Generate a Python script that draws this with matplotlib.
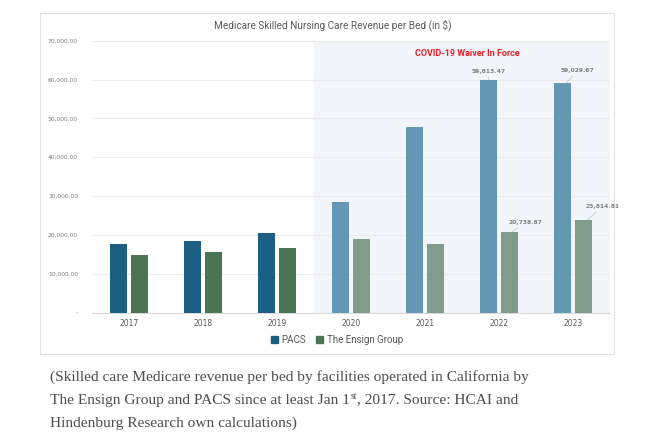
import numpy as np
import matplotlib.pyplot as plt
from matplotlib.patches import Rectangle
from matplotlib.ticker import FuncFormatter

years = ['2017', '2018', '2019', '2020', '2021', '2022', '2023']
pacs = [17590, 18450, 20600, 28550, 47900, 59813.47, 59029.67]
ensign = [14830, 15680, 16720, 19050, 17650, 20738.87, 23814.81]
waiver_start = 3  # index of 2020

pacs_dark, pacs_light = '#1b5f84', '#6596b4'
ens_dark, ens_light = '#4a7454', '#809d8c'

fig = plt.figure(figsize=(6.6, 4.44), dpi=100)
W, H = 660, 444

# chart frame
fig.patches.append(Rectangle((40 / W, 1 - 354 / H), 574 / W, 341 / H, transform=fig.transFigure,
                             facecolor='white', edgecolor='#e3e3e3', linewidth=0.8, zorder=-5))

ax = fig.add_axes([92 / W, 1 - 312.5 / H, 518 / W, (312.5 - 40.7) / H])
ax.set_facecolor('none')
x = np.arange(len(years))
bw = 0.225
off = 0.143
pcol = [pacs_dark if i < waiver_start else pacs_light for i in x]
ecol = [ens_dark if i < waiver_start else ens_light for i in x]
ax.axvspan(waiver_start - 0.5, len(years) - 0.5, color='#f2f6fa', zorder=0, lw=0)
ax.bar(x - off, pacs, bw, color=pcol, zorder=3, label='PACS')
ax.bar(x + off, ensign, bw, color=ecol, zorder=3, label='The Ensign Group')

ax.set_xlim(-0.5, len(years) - 0.5)
ax.set_ylim(0, 70000)
ax.set_yticks(np.arange(0, 70001, 10000))
ax.yaxis.set_major_formatter(FuncFormatter(lambda v, p: '-' if v == 0 else f'{v:,.2f}'))
ax.set_xticks(x)
ax.set_xticklabels(years)
ax.grid(axis='y', color='#ebebeb', linewidth=0.8, zorder=1)
for s in ['top', 'right', 'left']:
    ax.spines[s].set_visible(False)
ax.spines['bottom'].set_color('#d9d9d9')
ax.spines['bottom'].set_linewidth(0.8)
ax.tick_params(axis='y', length=0, labelsize=4.3, colors='#7f7f7f', pad=10)
ax.tick_params(axis='x', length=0, labelsize=5.5, colors='#595959', pad=5)

# data labels
lbl = dict(fontsize=4.3, color='#7f7f7f', fontweight='bold', ha='center', va='bottom',
           arrowprops=dict(arrowstyle='-', color='#bfbfbf', lw=0.5, shrinkA=0, shrinkB=0))
ax.annotate(f'{pacs[5]:,.2f}', xy=(5 - off, pacs[5]), xytext=(5 - off, pacs[5] + 1500), **lbl)
ax.annotate(f'{pacs[6]:,.2f}', xy=(6 - off + 0.05, pacs[6]), xytext=(6 - off + 0.2, pacs[6] + 2600), **lbl)
ax.annotate(f'{ensign[5]:,.2f}', xy=(5 + off + 0.03, ensign[5]), xytext=(5 + off + 0.22, ensign[5] + 1800), **lbl)
ax.annotate(f'{ensign[6]:,.2f}', xy=(6 + off + 0.05, ensign[6]), xytext=(6 + off + 0.25, ensign[6] + 2800), **lbl)

fig.text(333 / W, 1 - 25 / H, 'Medicare Skilled Nursing Care Revenue per Bed (in $)', ha='center', va='center',
         fontsize=7.2, color='#595959', family='Roboto')
fig.text(467 / W, 1 - 54 / H, 'COVID-19 Waiver In Force', ha='center', va='center',
         fontsize=6.5, color='#ee1c25', fontweight='bold', family='Roboto')

leg = fig.legend(loc='center', bbox_to_anchor=(337 / W, 1 - 340 / H), ncol=2, frameon=False,
                 handlelength=0.7, handleheight=0.7, handletextpad=0.4, columnspacing=1.0,
                 prop={'family': 'Roboto', 'size': 7})
for t in leg.get_texts():
    t.set_color('#595959')
leg.legend_handles[0].set_color(pacs_dark)
leg.legend_handles[1].set_color(ens_dark)

# caption
cap = dict(fontsize=11.1, color='#4d4d4d', family='Liberation Serif', va='center', ha='left')
fig.text(50 / W, 1 - 377 / H, '(Skilled care Medicare revenue per bed by facilities operated in California by', **cap)
r = fig.canvas.get_renderer()
t1 = fig.text(50 / W, 1 - 400 / H, 'The Ensign Group and PACS since at least Jan 1', **cap)
x1 = t1.get_window_extent(r).x1
t2 = fig.text(x1 / W + 0.5 / W, 1 - 396 / H, 'st', fontsize=7, color='#4d4d4d', family='Liberation Serif',
              va='center', ha='left')
x2 = t2.get_window_extent(r).x1
fig.text(x2 / W, 1 - 400 / H, ', 2017. Source: HCAI and', **cap)
fig.text(50 / W, 1 - 423 / H, 'Hindenburg Research own calculations)', **cap)

fig.savefig('out.png', dpi=100)
